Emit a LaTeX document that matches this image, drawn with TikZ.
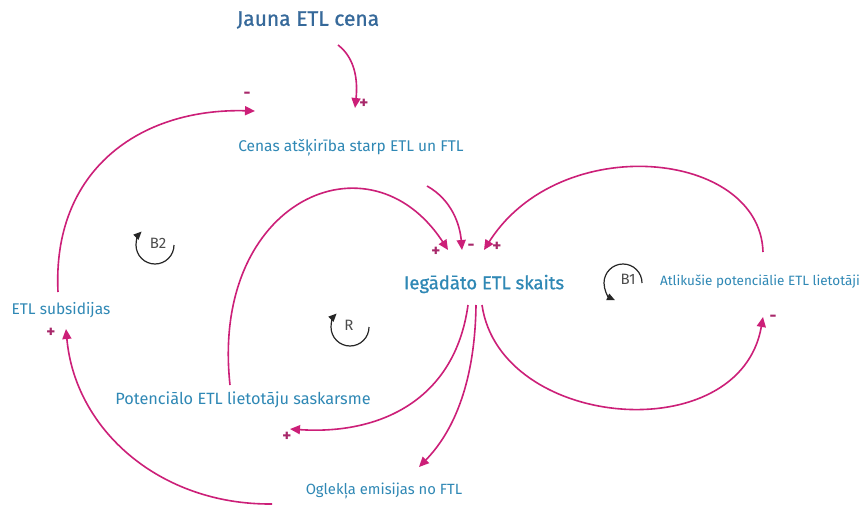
\documentclass[tikz,border=0pt]{standalone}
\usepackage{fontspec}
\setmainfont{Fira Sans}
\newfontfamily\heavyfont{Fira Sans}[FakeBold=0.9]
\usetikzlibrary{arrows.meta,calc}
\definecolor{linkc}{HTML}{CC1F78}
\definecolor{vartext}{HTML}{2F88B5}
\definecolor{toptext}{HTML}{36699A}
\definecolor{polc}{HTML}{A8286A}
\begin{document}
\begin{tikzpicture}[x=1pt,y=-1pt,
  var/.style={text=vartext, inner sep=1pt},
  link/.style={draw=linkc, line width=1.6pt, -{Triangle[length=10pt,width=9pt]}},
  pol/.style={text=polc, font=\fontsize{17}{17}\selectfont\bfseries, inner sep=0pt},
  loopmark/.style={draw=black!85, line width=1.2pt, -{Triangle[length=8pt,width=7pt]}},
  looplabel/.style={text=black!70, font=\fontsize{15}{15}\selectfont, inner sep=0pt}]

\fill[white] (0,0) rectangle (864,508);
\useasboundingbox (0,0) rectangle (864,508);

% variables
\node[var, text=toptext, font=\fontsize{21}{21}\selectfont\heavyfont] (jauna) at (308,20) {Jauna ETL cena};
\node[var, font=\fontsize{15.5}{15.5}\selectfont] (cenas) at (351,148) {Cenas atšķirība starp ETL un FTL};
\node[var, font=\fontsize{18.5}{18.5}\selectfont\heavyfont] (iegad) at (484,284) {Iegādāto ETL skaits};
\node[var, font=\fontsize{13.5}{13.5}\selectfont] (atlik) at (760,282) {Atlikušie potenciālie ETL lietotāji};
\node[var, font=\fontsize{15.5}{15.5}\selectfont] (subs) at (61,310) {ETL subsidijas};
\node[var, font=\fontsize{16.3}{16.3}\selectfont] (poten) at (243,400) {Potenciālo ETL lietotāju saskarsme};
\node[var, font=\fontsize{14.8}{14.8}\selectfont] (ogl) at (384,491) {Oglekļa emisijas no FTL};

% causal links
\draw[link] ($(jauna)+(30,25)$) .. controls (355,58) and (358,80) .. ($(cenas)+(4,-40)$);
\draw[link] ($(subs)+(-3,-18)$) .. controls (52,170) and (140,108) .. ($(cenas)+(-96,-37)$);
\draw[link] ($(cenas)+(76,38)$) .. controls (452,200) and (460,225) .. ($(iegad)+(-22,-34)$);
\draw[link] ($(poten)+(-13,-15)$) .. controls (210,200) and (370,130) .. ($(iegad)+(-36,-34)$);
\draw[link] ($(atlik)+(3,-30)$) .. controls (760,150) and (560,130) .. ($(iegad)+(0,-34)$);
\draw[link] ($(iegad)+(-2,21)$) .. controls (500,430) and (740,450) .. ($(atlik)+(3,35)$);
\draw[link] ($(iegad)+(-16,21)$) .. controls (455,400) and (380,435) .. ($(poten)+(47,29)$);
\draw[link] ($(iegad)+(-8,21)$) .. controls (475,380) and (455,430) .. ($(ogl)+(35,-24)$);
\draw[link] ($(ogl)+(-112,13)$) .. controls (160,505) and (75,430) .. ($(subs)+(5,19)$);

% polarities
\node[pol] (s1) at (364,104) {+};
\node[pol] (s2) at (247,95) {-};
\node[pol] (s3) at (471,247) {-};
\node[pol] (s4) at (436,252) {+};
\node[pol] (s5) at (497,247) {+};
\node[pol] (s6) at (773,318) {-};
\node[pol] (s7) at (287,437) {+};
\node[pol] (s9) at (51,333) {+};

% loop markers
\coordinate (b2c) at (155,245);
\coordinate (rc) at (350,327);
\coordinate (b1c) at (623,283);
\draw[loopmark] ($(b2c)+(0:19)$) arc[start angle=0, end angle=225, radius=19];
\draw[loopmark] ($(rc)+(0:19)$) arc[start angle=0, end angle=225, radius=19];
\draw[loopmark] ($(b1c)+(0:19)$) arc[start angle=0, end angle=-245, radius=19];
\node[looplabel] (b2) at ($(b2c)+(3,-2)$) {B2};
\node[looplabel] (rl) at ($(rc)+(-1,-2)$) {R};
\node[looplabel] (b1) at ($(b1c)+(5,-4)$) {B1};
\end{tikzpicture}
\end{document}
